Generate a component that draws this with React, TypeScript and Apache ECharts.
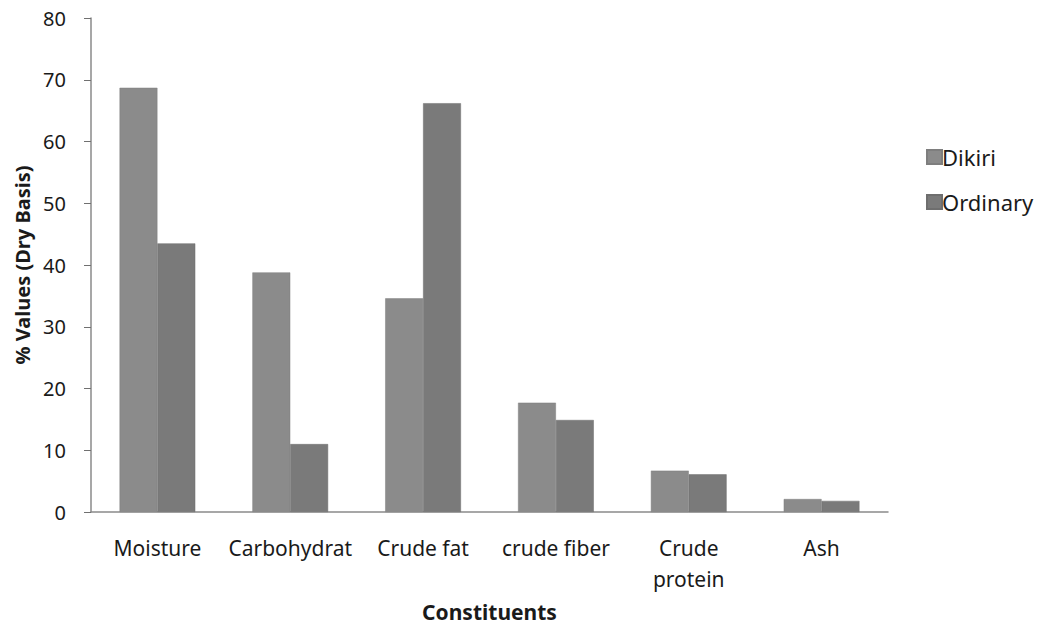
import React, { useEffect, useRef } from "react";
import * as echarts from "echarts";

const categories = ["Moisture", "Carbohydrat", "Crude fat", "crude fiber", "Crude\nprotein", "Ash"];
const dikiri = [68.7, 38.8, 34.6, 17.7, 6.7, 2.1];
const ordinary = [43.5, 11.0, 66.2, 14.9, 6.1, 1.8];
const seriesNames = ["Dikiri", "Ordinary"];

const FONT = "Noto Sans";

export default function App() {
  const ref = useRef<HTMLDivElement>(null);
  useEffect(() => {
    if (!ref.current) return;
    const chart = echarts.init(ref.current, null, { renderer: "svg" });
    chart.setOption({
      animation: false,
      backgroundColor: "#ffffff",
      textStyle: { fontFamily: FONT },
      grid: { left: 91, right: 165, top: 18, bottom: 118, containLabel: false },
      legend: {
        orient: "vertical",
        left: 926,
        top: 146,
        itemWidth: 15,
        itemHeight: 14,
        itemGap: 23,
        icon: "rect",
        padding: 0,
        textStyle: { fontSize: 22, lineHeight: 22, color: "#1a1a1a", fontFamily: FONT, padding: [0, 0, 0, -5] },
        data: seriesNames,
      },
      xAxis: {
        type: "category",
        data: categories,
        name: "Constituents",
        nameLocation: "middle",
        nameGap: 89,
        nameTextStyle: { fontSize: 21, fontWeight: "bold", color: "#1a1a1a", fontFamily: FONT },
        axisLine: { lineStyle: { color: "#8a8a8a", width: 1.5 } },
        axisTick: { show: false },
        axisLabel: {
          interval: 0,
          hideOverlap: false,
          fontSize: 21,
          color: "#1a1a1a",
          margin: 20,
          lineHeight: 31,
          fontFamily: FONT,
        },
      },
      yAxis: {
        type: "value",
        min: 0,
        max: 80,
        interval: 10,
        name: "% Values (Dry Basis)",
        nameLocation: "middle",
        nameGap: 59,
        nameRotate: 90,
        nameTextStyle: { fontSize: 20, fontWeight: "bold", color: "#1a1a1a", fontFamily: FONT },
        axisLine: { show: true, lineStyle: { color: "#8a8a8a", width: 1.5 } },
        axisTick: { show: true, length: 7, lineStyle: { color: "#707070" } },
        splitLine: { show: false },
        axisLabel: { fontSize: 20, color: "#1a1a1a", margin: 25, fontFamily: FONT },
      },
      series: [
        {
          name: seriesNames[0],
          type: "bar",
          data: dikiri,
          barGap: "0%",
          barCategoryGap: "43%",
          itemStyle: { color: "#8b8b8b", borderColor: "#7e7e7e", borderWidth: 0.5 },
        },
        {
          name: seriesNames[1],
          type: "bar",
          data: ordinary,
          barGap: "0%",
          barCategoryGap: "43%",
          itemStyle: { color: "#7a7a7a", borderColor: "#6e6e6e", borderWidth: 0.5 },
        },
      ],
    });
    return () => chart.dispose();
  }, []);
  return (
    <div
      ref={ref}
      style={{ position: "fixed", left: 0, top: 0, width: 1053, height: 630, background: "#fff" }}
    />
  );
}
